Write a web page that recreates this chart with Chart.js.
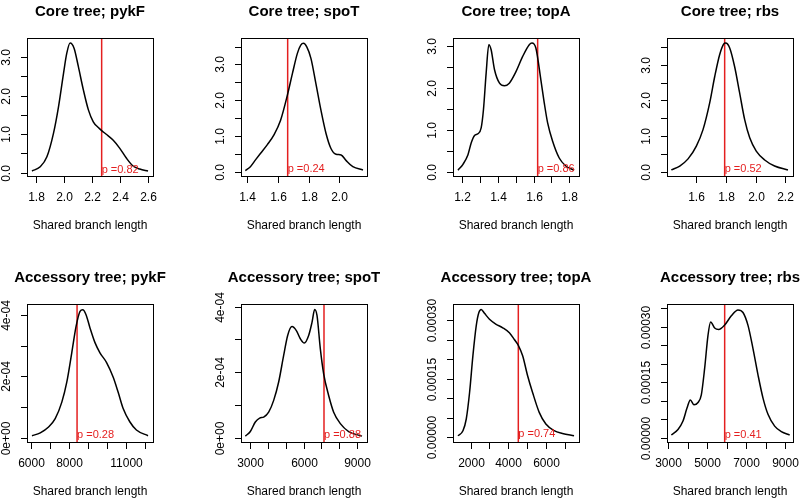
<!DOCTYPE html>
<html>
<head>
<meta charset="utf-8">
<script src="https://cdn.jsdelivr.net/npm/chart.js@4/dist/chart.umd.min.js"></script>
<style>
    html, body { margin: 0; padding: 0; background: #fff; }
    body { width: 802px; height: 500px; position: relative; overflow: hidden; }
    canvas { position: absolute; }
</style>
</head>
<body>
<script>
// Panel titles
const titles = [
    'Core tree; pykF', 'Core tree; spoT', 'Core tree; topA', 'Core tree; rbs',
    'Accessory tree; pykF', 'Accessory tree; spoT', 'Accessory tree; topA', 'Accessory tree; rbs'
];

// Density curves
const corePykfX = [1.769, 1.828, 1.876, 1.923, 1.959, 1.995, 2.018, 2.042, 2.071, 2.101, 2.137, 2.173, 2.208, 2.244, 2.268, 2.303, 2.351, 2.398, 2.446, 2.493, 2.541, 2.600];
const corePykfY = [0.04, 0.15, 0.41, 1.02, 1.71, 2.58, 3.10, 3.37, 3.23, 2.76, 2.15, 1.63, 1.32, 1.17, 1.09, 0.99, 0.84, 0.63, 0.37, 0.17, 0.09, 0.04];

const coreSpotX = [1.389, 1.422, 1.455, 1.487, 1.531, 1.575, 1.618, 1.662, 1.695, 1.727, 1.749, 1.767, 1.788, 1.815, 1.847, 1.880, 1.913, 1.945, 1.978, 2.011, 2.044, 2.087, 2.153];
const coreSpotY = [0.03, 0.14, 0.33, 0.51, 0.75, 1.03, 1.44, 2.14, 2.75, 3.31, 3.54, 3.59, 3.49, 3.17, 2.47, 1.72, 1.07, 0.65, 0.49, 0.47, 0.31, 0.14, 0.05];

const coreTopaX = [1.176, 1.204, 1.232, 1.250, 1.269, 1.288, 1.306, 1.319, 1.334, 1.349, 1.362, 1.381, 1.409, 1.437, 1.464, 1.502, 1.539, 1.576, 1.591, 1.613, 1.641, 1.660, 1.679, 1.707, 1.744, 1.781, 1.828];
const coreTopaY = [0.04, 0.18, 0.41, 0.69, 0.87, 0.91, 1.05, 1.49, 2.36, 3.04, 2.92, 2.44, 2.12, 2.06, 2.12, 2.40, 2.76, 3.04, 3.08, 2.96, 2.20, 1.65, 1.17, 0.73, 0.33, 0.14, 0.04];

const coreRbsX = [1.431, 1.488, 1.544, 1.600, 1.645, 1.690, 1.724, 1.757, 1.784, 1.798, 1.825, 1.858, 1.892, 1.926, 1.960, 2.004, 2.061, 2.128, 2.218];
const coreRbsY = [0.05, 0.16, 0.36, 0.72, 1.18, 1.93, 2.67, 3.28, 3.58, 3.61, 3.47, 2.95, 2.21, 1.46, 0.95, 0.58, 0.33, 0.16, 0.05];

const accPykfX = [6035, 6471, 6908, 7257, 7606, 7867, 8129, 8356, 8565, 8705, 8880, 9089, 9351, 9613, 9962, 10311, 10572, 10834, 11183, 11532, 12143];
const accPykfY = [6.5e-6, 1.6e-5, 3.5e-5, 6.2e-5, 1.16e-4, 1.81e-4, 2.77e-4, 3.63e-4, 4.12e-4, 4.17e-4, 4.01e-4, 3.58e-4, 3.10e-4, 2.77e-4, 2.45e-4, 1.97e-4, 1.48e-4, 9.5e-5, 5.2e-5, 2.5e-5, 6.5e-6];

const accSpotX = [2719, 3000, 3281, 3525, 3750, 4031, 4313, 4594, 4875, 5100, 5344, 5588, 5813, 6038, 6281, 6469, 6619, 6750, 6938, 7125, 7406, 7688, 8063, 8531, 9281];
const accSpotY = [5e-6, 1.9e-5, 4.8e-5, 6.0e-5, 6.3e-5, 7.8e-5, 1.14e-4, 1.70e-4, 2.51e-4, 3.12e-4, 3.39e-4, 3.27e-4, 3.02e-4, 2.89e-4, 3.12e-4, 3.52e-4, 3.91e-4, 3.73e-4, 2.71e-4, 1.95e-4, 1.29e-4, 7.8e-5, 4.3e-5, 1.9e-5, 5e-6];

const accTopaX = [1330, 1595, 1771, 1947, 2123, 2300, 2441, 2564, 2740, 3004, 3357, 3709, 4062, 4326, 4537, 4767, 5031, 5295, 5648, 6000, 6441, 6881, 7498];
const accTopaY = [4e-6, 1.7e-5, 4.7e-5, 1.15e-4, 2.09e-4, 2.86e-4, 3.20e-4, 3.28e-4, 3.18e-4, 3.03e-4, 2.90e-4, 2.81e-4, 2.68e-4, 2.51e-4, 2.36e-4, 2.09e-4, 1.58e-4, 1.15e-4, 6.4e-5, 3.4e-5, 1.7e-5, 1.0e-5, 4e-6];

const accRbsX = [3170, 3511, 3767, 3972, 4142, 4329, 4534, 4704, 4875, 5045, 5182, 5386, 5591, 5898, 6238, 6579, 6835, 7091, 7346, 7602, 7858, 8113, 8454, 8795, 9221];
const accRbsY = [7e-6, 2.2e-5, 4.5e-5, 8.0e-5, 1.02e-4, 8.9e-5, 9.5e-5, 1.16e-4, 1.88e-4, 2.77e-4, 3.13e-4, 2.97e-4, 2.93e-4, 3.05e-4, 3.30e-4, 3.46e-4, 3.39e-4, 3.04e-4, 2.41e-4, 1.70e-4, 1.07e-4, 6.3e-5, 3.1e-5, 1.6e-5, 7e-6];

const curvesX = [corePykfX, coreSpotX, coreTopaX, coreRbsX, accPykfX, accSpotX, accTopaX, accRbsX];
const curvesY = [corePykfY, coreSpotY, coreTopaY, coreRbsY, accPykfY, accSpotY, accTopaY, accRbsY];

// Observed values (red lines) and p-values
const observed = [2.268, 1.664, 1.623, 1.791, 8408, 7144, 4537, 5898];
const pLabels = ['p =0.82', 'p =0.24', 'p =0.86', 'p =0.52', 'p =0.28', 'p =0.88', 'p =0.74', 'p =0.41'];

// Axis limits
const xMin = [1.7335, 1.361, 1.148, 1.402, 5773, 2475, 1066, 2949];
const xMax = [2.6356, 2.179, 1.855, 2.252, 12405, 9563, 7762, 9392];
const yMin = [-0.09, -0.12, -0.1, -0.12, -1.4e-5, -1.3e-5, -1.2e-5, -1.2e-5];
const yMax = [3.5, 3.74, 3.2, 3.75, 4.36e-4, 4.08e-4, 3.42e-4, 3.62e-4];

// Tick values and labels (empty label = tick without text, as R drops overlapping ones)
const xTicks = [
    [1.8, 2.0, 2.2, 2.4, 2.6],
    [1.4, 1.6, 1.8, 2.0],
    [1.2, 1.3, 1.4, 1.5, 1.6, 1.7, 1.8],
    [1.6, 1.8, 2.0, 2.2],
    [6000, 7000, 8000, 9000, 10000, 11000, 12000],
    [3000, 4000, 5000, 6000, 7000, 8000, 9000],
    [2000, 3000, 4000, 5000, 6000, 7000],
    [3000, 4000, 5000, 6000, 7000, 8000, 9000]
];
const xTickLabels = [
    ['1.8', '2.0', '2.2', '2.4', '2.6'],
    ['1.4', '1.6', '1.8', '2.0'],
    ['1.2', '', '1.4', '', '1.6', '', '1.8'],
    ['1.6', '1.8', '2.0', '2.2'],
    ['6000', '', '8000', '', '', '11000', ''],
    ['3000', '', '', '6000', '', '', '9000'],
    ['2000', '', '4000', '', '6000', ''],
    ['3000', '', '5000', '', '7000', '', '9000']
];
const yTicks = [
    [0, 0.5, 1, 1.5, 2, 2.5, 3],
    [0, 0.5, 1, 1.5, 2, 2.5, 3, 3.5],
    [0, 0.5, 1, 1.5, 2, 2.5, 3],
    [0, 0.5, 1, 1.5, 2, 2.5, 3, 3.5],
    [0, 1e-4, 2e-4, 3e-4, 4e-4],
    [0, 1e-4, 2e-4, 3e-4, 4e-4],
    [0, 5e-5, 1e-4, 1.5e-4, 2e-4, 2.5e-4, 3e-4],
    [0, 5e-5, 1e-4, 1.5e-4, 2e-4, 2.5e-4, 3e-4, 3.5e-4]
];
const yTickLabels = [
    ['0.0', '', '1.0', '', '2.0', '', '3.0'],
    ['0.0', '', '1.0', '', '2.0', '', '3.0', ''],
    ['0.0', '', '1.0', '', '2.0', '', '3.0'],
    ['0.0', '', '1.0', '', '2.0', '', '3.0', ''],
    ['0e+00', '', '2e-04', '', '4e-04'],
    ['0e+00', '', '2e-04', '', '4e-04'],
    ['0.00000', '', '', '0.00015', '', '', '0.00030'],
    ['0.00000', '', '', '0.00015', '', '', '0.00030', '']
];

const FONT = '"Liberation Sans", Arial, Helvetica, sans-serif';
const RED = '#e41f1f';
const cellLeft = [0, 214, 426, 640];
const cellTop = [0, 266];
const CELL_W = 175, CELL_H = 234;

// R-like box, axes, titles and p label
const rStyle = {
    id: 'rStyle',
    afterDatasetsDraw(chart, args, opts) {
        const i = opts.panel;
        const { ctx, chartArea: a } = chart;
        const x = chart.scales.x, y = chart.scales.y;
        ctx.save();
        ctx.strokeStyle = '#000';
        ctx.lineWidth = 1;
        ctx.strokeRect(a.left + 0.5, a.top + 0.5, a.right - a.left, a.bottom - a.top);

        ctx.fillStyle = '#000';
        ctx.font = '12px ' + FONT;
        ctx.textAlign = 'center';
        ctx.textBaseline = 'middle';

        xTicks[i].forEach((v, k) => {
            const px = Math.round(x.getPixelForValue(v)) + 0.5;
            ctx.beginPath();
            ctx.moveTo(px, a.bottom + 0.5);
            ctx.lineTo(px, a.bottom + 7);
            ctx.stroke();
            if (xTickLabels[i][k]) ctx.fillText(xTickLabels[i][k], px, a.bottom + 22);
        });

        yTicks[i].forEach((v, k) => {
            const py = Math.round(y.getPixelForValue(v)) + 0.5;
            ctx.beginPath();
            ctx.moveTo(a.left + 0.5, py);
            ctx.lineTo(a.left - 6, py);
            ctx.stroke();
            if (yTickLabels[i][k]) {
                ctx.save();
                ctx.translate(a.left - 20, py);
                ctx.rotate(-Math.PI / 2);
                ctx.fillText(yTickLabels[i][k], 0, 0);
                ctx.restore();
            }
        });

        const cx = (a.left + a.right) / 2;
        ctx.fillText('Shared branch length', cx, a.bottom + 50);
        ctx.font = 'bold 15px ' + FONT;
        ctx.fillText(titles[i], cx, a.top - 26);

        ctx.fillStyle = RED;
        ctx.font = '11px ' + FONT;
        ctx.textAlign = 'left';
        ctx.fillText(pLabels[i], x.getPixelForValue(observed[i]), y.getPixelForValue(0) - 3);
        ctx.restore();
    }
};

function makePanel(i) {
    const canvas = document.createElement('canvas');
    canvas.width = CELL_W;
    canvas.height = CELL_H;
    canvas.style.left = cellLeft[i % 4] + 'px';
    canvas.style.top = cellTop[Math.floor(i / 4)] + 'px';
    document.body.appendChild(canvas);

    const curve = curvesX[i].map((v, k) => ({ x: v, y: curvesY[i][k] }));
    const vline = [{ x: observed[i], y: yMin[i] }, { x: observed[i], y: yMax[i] }];

    new Chart(canvas.getContext('2d'), {
        type: 'line',
        data: {
            datasets: [
                {
                    data: curve,
                    borderColor: '#000',
                    borderWidth: 1.5,
                    pointRadius: 0,
                    cubicInterpolationMode: 'monotone',
                    fill: false
                },
                {
                    data: vline,
                    borderColor: RED,
                    borderWidth: 1.5,
                    pointRadius: 0,
                    fill: false
                }
            ]
        },
        options: {
            responsive: false,
            animation: false,
            devicePixelRatio: 1,
            layout: { padding: { left: 27, top: 38, right: 22, bottom: 58 } },
            scales: {
                x: { type: 'linear', min: xMin[i], max: xMax[i], display: false },
                y: { type: 'linear', min: yMin[i], max: yMax[i], display: false }
            },
            plugins: {
                legend: { display: false },
                tooltip: { enabled: false },
                rStyle: { panel: i }
            }
        },
        plugins: [rStyle]
    });
}

for (let i = 0; i < titles.length; i++) makePanel(i);
</script>
</body>
</html>
